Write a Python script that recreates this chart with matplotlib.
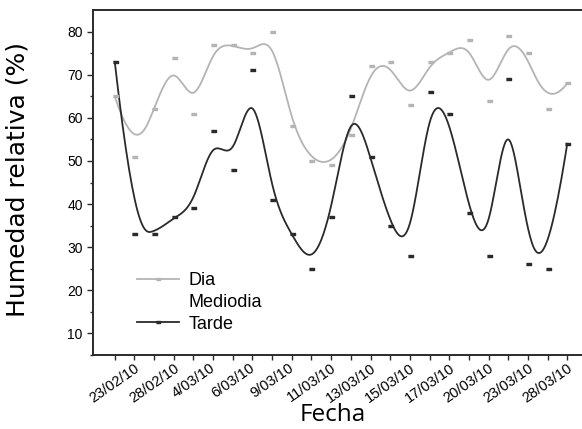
import matplotlib
matplotlib.use('Agg')
import matplotlib.pyplot as plt
import numpy as np

# Relative humidity readings, one per sampling day
fechas = ['23/02/10', '28/02/10', '4/03/10', '6/03/10', '9/03/10', '11/03/10',
          '13/03/10', '15/03/10', '17/03/10', '20/03/10', '23/03/10', '28/03/10']
dia = [65, 51, 62, 74, 61, 77, 77, 75, 80, 58, 50, 49,
       56, 72, 73, 63, 73, 75, 78, 64, 79, 75, 62, 68]
tarde = [73, 33, 33, 37, 39, 57, 48, 71, 41, 33, 25, 37,
         65, 51, 35, 28, 66, 61, 38, 28, 69, 26, 25, 54]

GRAY = '#b4b4b4'
DARK = '#2a2a2a'


def bspline(px, py, k=3, samples=600):
    """Clamped uniform B-spline using the points as control polygon."""
    px = np.asarray(px, float)
    py = np.asarray(py, float)
    n = len(px)
    knots = np.concatenate([np.zeros(k), np.arange(n - k + 1), np.full(k, n - k)])
    t = np.linspace(0, n - k, samples)
    t[-1] -= 1e-9
    N = np.zeros((samples, len(knots) - 1))
    for j in range(len(knots) - 1):
        N[:, j] = (knots[j] <= t) & (t < knots[j + 1])
    for d in range(1, k + 1):
        Nn = np.zeros((samples, len(knots) - 1 - d))
        for j in range(len(knots) - 1 - d):
            a = knots[j + d] - knots[j]
            b = knots[j + d + 1] - knots[j + 1]
            left = (t - knots[j]) / a * N[:, j] if a > 0 else 0
            right = (knots[j + d + 1] - t) / b * N[:, j + 1] if b > 0 else 0
            Nn[:, j] = left + right
        N = Nn
    return N @ px, N @ py


x = np.arange(len(dia))
rect = [(-1, -0.5), (1, -0.5), (1, 0.5), (-1, 0.5)]

fig = plt.figure(figsize=(5.82, 4.29), dpi=100)
ax = fig.add_axes([0.16, 0.1725, 0.84, 0.804])

sx, sy = bspline(x, dia)
ax.plot(sx, sy, color=GRAY, linewidth=1.3, zorder=2)
ax.plot(x, dia, linestyle='none', marker=rect, markersize=3.6, color=GRAY, zorder=3)
sx, sy = bspline(x, tarde)
ax.plot(sx, sy, color=DARK, linewidth=1.3, zorder=2)
ax.plot(x, tarde, linestyle='none', marker=rect, markersize=3.6, color=DARK, zorder=3)

# legend handles: line with a small marker in the middle
h_dia, = ax.plot([], [], color=GRAY, linewidth=1.3, marker=rect, markersize=2.5)
h_med, = ax.plot([], [], color='white', linewidth=1.3)
h_tar, = ax.plot([], [], color=DARK, linewidth=1.3, marker=rect, markersize=2.5)
leg = ax.legend([h_dia, h_med, h_tar], ['Dia', 'Mediodia', 'Tarde'],
                loc='upper left', bbox_to_anchor=(0.09, 0.24), frameon=False,
                borderpad=0, borderaxespad=0, handlelength=2.3, handletextpad=0.55,
                labelspacing=0.26, numpoints=1,
                prop={'family': 'Liberation Sans', 'size': 13})

ax.set_xlim(-1.1, 23.75)
ax.set_ylim(5, 85)

ax.set_xticks(x)
ax.set_xticklabels([fechas[i // 2] if i % 2 == 0 else '' for i in x],
                   rotation=35, ha='center', family='Liberation Sans', fontsize=10.5)
ax.set_yticks(np.arange(10, 81, 10))
ax.set_yticks(np.arange(5, 85, 5), minor=True)
for lab in ax.get_yticklabels():
    lab.set_family('Liberation Sans')
    lab.set_fontsize(10)
ax.tick_params(axis='x', length=3.5, width=1.0, color=DARK, pad=1)
ax.tick_params(axis='y', which='major', length=4.5, width=1.0, color=DARK, pad=3)
ax.tick_params(axis='y', which='minor', length=2.5, width=1.0, color=DARK)

for side in ['left', 'bottom', 'top']:
    ax.spines[side].set_linewidth(1.4)
    ax.spines[side].set_color(DARK)
ax.spines['right'].set_visible(False)

ax.set_xlabel('Fecha', family='Open Sans', fontsize=17.5)
ax.set_ylabel('Humedad relativa (%)', family='DejaVu Sans', fontsize=18)
ax.xaxis.set_label_coords(0.49, -0.14)
ax.yaxis.set_label_coords(-0.13, 0.51)

plt.savefig('out.png', dpi=100)
